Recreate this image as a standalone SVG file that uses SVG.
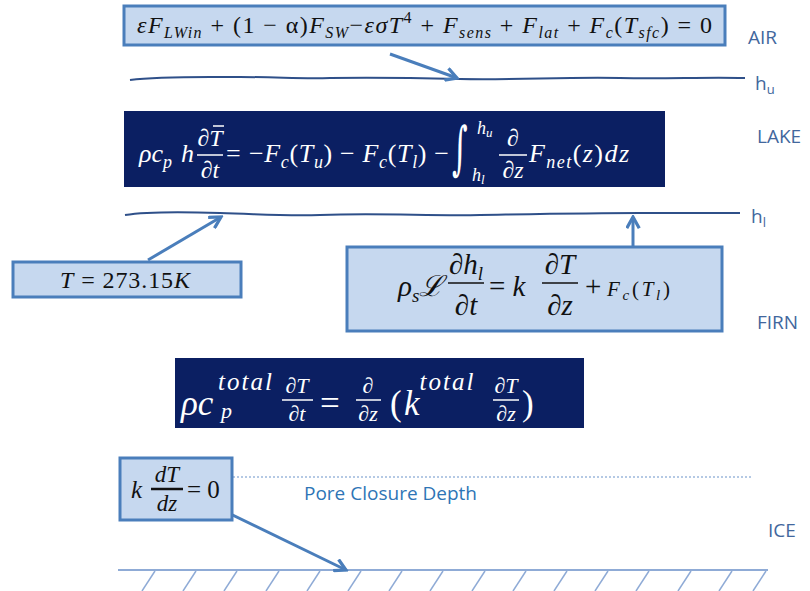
<svg xmlns="http://www.w3.org/2000/svg" width="810" height="591" viewBox="0 0 810 591">
<defs>
<style>
.lb{fill:#c6d8ef;stroke:#4a7ebb;stroke-width:3}
.db{fill:#0b1f62}
.m{font-family:'Liberation Serif','DejaVu Serif',serif;fill:#111}
.w{fill:#fff}
.i{font-style:italic}
.lab{font-family:'Open Sans','Liberation Sans',sans-serif;fill:#42679d;font-size:19px}
.conn{stroke:#4a7ebb;stroke-width:3;fill:none}
.wave{stroke:#2f5089;stroke-width:2;fill:none}
.bar{stroke:#fff;stroke-width:1.5}
.bk{stroke:#111;stroke-width:1.5}
.hatch{stroke:#8fabd6;stroke-width:1.5}
</style>
<marker id="ah" viewBox="0 0 12 12" refX="10" refY="6" markerWidth="15" markerHeight="15" markerUnits="userSpaceOnUse" orient="auto">
<path d="M1,1 L10,6 L1,11" fill="none" stroke="#4a7ebb" stroke-width="2.6"/>
</marker>
</defs>
<rect width="810" height="591" fill="#fff"/>

<g id="labels">
<text class="lab" x="748" y="44">AIR</text>
<text class="lab" x="755" y="90">h<tspan font-size="13" dy="4">u</tspan></text>
<text class="lab" x="757" y="143">LAKE</text>
<text class="lab" x="751" y="223">h<tspan font-size="13" dy="4">l</tspan></text>
<text class="lab" x="757" y="329">FIRN</text>
<text class="lab" x="768" y="537">ICE</text>
<text class="lab" x="304" y="500" font-size="15" style="fill:#2e75b6">Pore Closure Depth</text>
</g>

<g id="interfaces">
<path class="wave" d="M130,80 C160,76 200,77 240,77 C280,77 300,79 330,78 C380,77 420,78 460,79 C520,80 560,77 620,78 C670,79 700,77 745,78"/>
<path class="wave" d="M125,215 C150,211 190,212 220,213 C260,214 280,216 320,215 C380,213 430,216 480,215 C540,214 590,213 640,213 C680,213 710,213 740,213"/>
<line x1="233" y1="477" x2="752" y2="477" stroke="#6b93c9" stroke-width="1" stroke-dasharray="2 2"/>
<line x1="118" y1="570" x2="768" y2="570" stroke="#8fabd6" stroke-width="2"/>
<g class="hatch">
<line x1="155" y1="571" x2="142" y2="591"/><line x1="196" y1="571" x2="183" y2="591"/><line x1="237" y1="571" x2="224" y2="591"/><line x1="279" y1="571" x2="266" y2="591"/><line x1="320" y1="571" x2="307" y2="591"/><line x1="361" y1="571" x2="348" y2="591"/><line x1="402" y1="571" x2="389" y2="591"/><line x1="443" y1="571" x2="430" y2="591"/><line x1="485" y1="571" x2="472" y2="591"/><line x1="526" y1="571" x2="513" y2="591"/><line x1="567" y1="571" x2="554" y2="591"/><line x1="608" y1="571" x2="595" y2="591"/><line x1="649" y1="571" x2="636" y2="591"/><line x1="691" y1="571" x2="678" y2="591"/><line x1="732" y1="571" x2="719" y2="591"/><line x1="766" y1="571" x2="753" y2="591"/>
</g>
</g>

<g id="connectors">
<line class="conn" x1="390" y1="54" x2="457" y2="78" marker-end="url(#ah)"/>
<line class="conn" x1="148" y1="260" x2="221" y2="217" marker-end="url(#ah)"/>
<line class="conn" x1="633" y1="247" x2="633" y2="217" marker-end="url(#ah)"/>
<line class="conn" x1="218" y1="508" x2="346" y2="570" marker-end="url(#ah)"/>
</g>

<g id="air-eq">
<rect class="lb" x="124" y="6" width="601" height="39"/>
<text class="m" x="137" y="33" font-size="24" textLength="575" lengthAdjust="spacing"><tspan class="i">εF</tspan><tspan class="i" dy="5" font-size="16">LWin</tspan><tspan dy="-5"> + (1 − α)</tspan><tspan class="i">F</tspan><tspan class="i" dy="5" font-size="16">SW</tspan><tspan dy="-5">−</tspan><tspan class="i">εσT</tspan><tspan dy="-10" font-size="16">4</tspan><tspan dy="10"> + </tspan><tspan class="i">F</tspan><tspan class="i" dy="5" font-size="16">sens</tspan><tspan dy="-5"> + </tspan><tspan class="i">F</tspan><tspan class="i" dy="5" font-size="16">lat</tspan><tspan dy="-5"> + </tspan><tspan class="i">F</tspan><tspan class="i" dy="5" font-size="16">c</tspan><tspan dy="-5">(</tspan><tspan class="i">T</tspan><tspan class="i" dy="5" font-size="16">sfc</tspan><tspan dy="-5">) = 0</tspan></text>
</g>

<g id="lake-eq">
<rect class="db" x="124" y="111" width="541" height="76"/>
<text x="139" y="162" class="m w i" font-size="26">ρc<tspan dy="6" font-size="18">p</tspan></text>
<text x="181" y="162" class="m w i" font-size="26">h</text>
<text x="210" y="146" class="m w i" font-size="24" text-anchor="middle">∂T</text>
<line x1="213" y1="126" x2="224" y2="126" class="bar"/>
<line x1="197" y1="155" x2="223" y2="155" class="bar"/>
<text x="210" y="178" class="m w i" font-size="24" text-anchor="middle">∂t</text>
<text x="226" y="162" class="m w" font-size="26">=</text>
<text x="249" y="162" class="m w" font-size="26" textLength="200" lengthAdjust="spacing">−<tspan class="i">F</tspan><tspan class="i" dy="6" font-size="18">c</tspan><tspan dy="-6">(</tspan><tspan class="i">T</tspan><tspan class="i" dy="6" font-size="18">u</tspan><tspan dy="-6">) − </tspan><tspan class="i">F</tspan><tspan class="i" dy="6" font-size="18">c</tspan><tspan dy="-6">(</tspan><tspan class="i">T</tspan><tspan class="i" dy="6" font-size="18">l</tspan><tspan dy="-6">) −</tspan></text>
<text transform="translate(452,168) scale(0.75,1.45)" font-family="'DejaVu Serif',serif" fill="#fff" font-size="40">∫</text>
<text x="477" y="134" class="m w i" font-size="18">h<tspan dy="3" font-size="13">u</tspan></text>
<text x="472" y="181" class="m w i" font-size="18">h<tspan dy="3" font-size="13">l</tspan></text>
<text x="513" y="146" class="m w i" font-size="24" text-anchor="middle">∂</text>
<line x1="499" y1="155" x2="527" y2="155" class="bar"/>
<text x="513" y="178" class="m w i" font-size="24" text-anchor="middle">∂z</text>
<text x="529" y="162" class="m w i" font-size="26" textLength="100" lengthAdjust="spacing">F<tspan dy="6" font-size="18">net</tspan><tspan dy="-6" font-style="normal">(</tspan>z<tspan font-style="normal">)</tspan>dz</text>
</g>

<g id="melt-temp">
<rect class="lb" x="13" y="262" width="228" height="35"/>
<text class="m" x="60" y="288" font-size="24" textLength="130" lengthAdjust="spacing"><tspan class="i">T</tspan> = 273.15<tspan class="i">K</tspan></text>
</g>

<g id="firn-eq">
<rect class="lb" x="347" y="247" width="375" height="84"/>
<text class="m i" x="398" y="296" font-size="29">ρ<tspan dy="6" font-size="19">s</tspan><tspan dy="-6">ℒ</tspan></text>
<text class="m i" x="466" y="274" font-size="29" text-anchor="middle">∂h<tspan dy="6" font-size="19">l</tspan></text>
<line x1="448" y1="283" x2="484" y2="283" class="bk"/>
<text class="m i" x="466" y="315" font-size="29" text-anchor="middle">∂t</text>
<text class="m" x="489" y="296" font-size="29">= <tspan class="i">k</tspan></text>
<text class="m i" x="560" y="274" font-size="29" text-anchor="middle">∂T</text>
<line x1="542" y1="283" x2="578" y2="283" class="bk"/>
<text class="m i" x="560" y="315" font-size="29" text-anchor="middle">∂z</text>
<text class="m" x="585" y="296" font-size="29">+</text>
<text class="m i" x="607" y="296" font-size="21" textLength="63" lengthAdjust="spacing">F<tspan dy="4" font-size="15">c</tspan><tspan dy="-4" font-style="normal">(</tspan>T<tspan dy="4" font-size="15">l</tspan><tspan dy="-4" font-style="normal">)</tspan></text>
</g>

<g id="firn-heat-eq">
<rect class="db" x="175" y="358" width="409" height="70"/>
<text class="m w i" x="181" y="415" font-size="35">ρc<tspan x="218" y="390" font-size="25" textLength="54" lengthAdjust="spacing">total</tspan><tspan x="221" y="418" font-size="22">p</tspan></text>
<text class="m w i" x="297" y="393" font-size="22" text-anchor="middle">∂T</text>
<line x1="282" y1="400" x2="313" y2="400" class="bar"/>
<text class="m w i" x="297" y="421" font-size="22" text-anchor="middle">∂t</text>
<text class="m w" x="320" y="415" font-size="35">=</text>
<text class="m w i" x="368" y="393" font-size="22" text-anchor="middle">∂</text>
<line x1="356" y1="400" x2="381" y2="400" class="bar"/>
<text class="m w i" x="368" y="421" font-size="22" text-anchor="middle">∂z</text>
<text class="m w" x="390" y="415" font-size="35">(</text>
<text class="m w i" x="404" y="415" font-size="35">k<tspan y="390" font-size="25" textLength="54" lengthAdjust="spacing">total</tspan></text>
<text class="m w i" x="506" y="393" font-size="22" text-anchor="middle">∂T</text>
<line x1="493" y1="400" x2="519" y2="400" class="bar"/>
<text class="m w i" x="506" y="421" font-size="22" text-anchor="middle">∂z</text>
<text class="m w" x="522" y="415" font-size="35">)</text>
</g>

<g id="base-bc">
<rect class="lb" x="120" y="458" width="112" height="62"/>
<text class="m i" x="131" y="498" font-size="25">k</text>
<text class="m i" x="167" y="482" font-size="23" text-anchor="middle">dT</text>
<line x1="151" y1="489" x2="183" y2="489" stroke="#111" stroke-width="2.5"/>
<text class="m i" x="167" y="511" font-size="23" text-anchor="middle">dz</text>
<text class="m" x="187" y="498" font-size="25">= 0</text>
</g>
</svg>
